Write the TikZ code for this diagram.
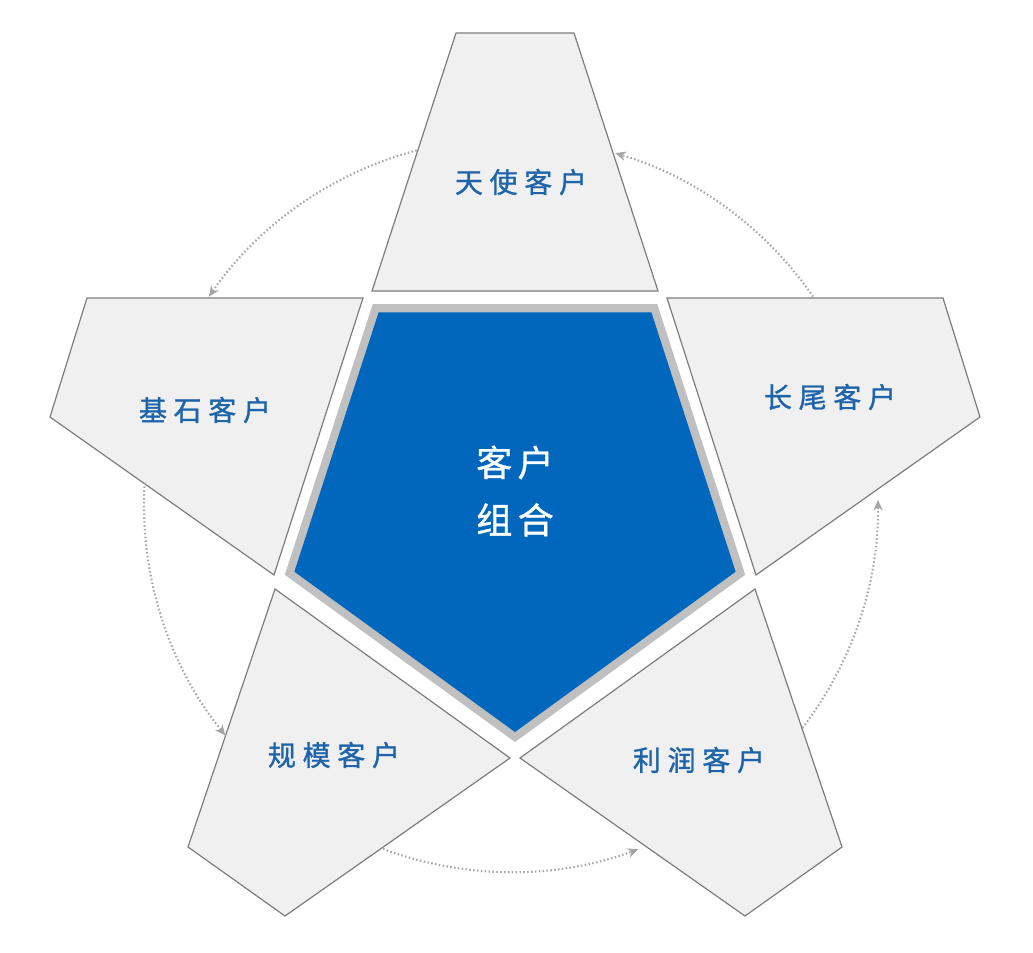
\documentclass[tikz,border=0pt]{standalone}
\usepackage{fontspec}
\newfontfamily\cjk[LetterSpace=24,FakeBold=1.2]{Noto Sans CJK SC}
\newfontfamily\cjkc[LetterSpace=15,FakeBold=1.0]{Noto Sans CJK SC}
\usetikzlibrary{arrows.meta}
\definecolor{piecefill}{RGB}{240,240,240}
\definecolor{piecedraw}{RGB}{125,125,125}
\definecolor{coreblue}{RGB}{0,103,189}
\definecolor{coregray}{RGB}{192,192,192}
\definecolor{labelblue}{RGB}{30,100,170}
\definecolor{arrowgray}{RGB}{165,165,165}
\begin{document}
\begin{tikzpicture}[x=0.75pt,y=-0.75pt,
  piece/.style={fill=piecefill,draw=piecedraw,line width=0.9pt,line join=miter},
  lbl/.style={text=labelblue,font=\cjk\fontsize{21}{25}\selectfont,inner sep=0pt},
  corelbl/.style={text=white,align=center,font=\cjkc\fontsize{27}{43}\selectfont,inner sep=0pt},
  flow/.style={draw=arrowgray,line width=1.6pt,dash pattern=on 1.1pt off 1.8pt,
    -{Stealth[length=8pt,width=7pt]}}]
\useasboundingbox (0,0) rectangle (1033,953);
\fill[white] (0,0) rectangle (1033,953);

% star pieces
\draw[piece] (456,33) -- (574,33) -- (658,291) -- (372,291) -- cycle;
\draw[piece] (87,298) -- (363,298) -- (274,575) -- (50,417) -- cycle;
\draw[piece] (943,298) -- (667,298) -- (756,575) -- (980,417) -- cycle;
\draw[piece] (275,589) -- (510,758) -- (285,916) -- (188,847) -- cycle;
\draw[piece] (755,589) -- (520,758) -- (745,916) -- (842,847) -- cycle;

% central pentagon
\begin{scope}[shift={(515,500)}]
  \fill[coregray] (90:242) -- (162:242) -- (234:242) -- (306:242) -- (18:242) -- cycle;
  \fill[coreblue] (90:232) -- (162:232) -- (234:232) -- (306:232) -- (18:232) -- cycle;
\end{scope}

% labels
\node[lbl] (angel) at (521,182) {天使客户};
\node[lbl] (base) at (205,410) {基石客户};
\node[lbl] (tail) at (830,397) {长尾客户};
\node[lbl] (scale) at (334,755) {规模客户};
\node[lbl] (profit) at (699,760) {利润客户};
\node[corelbl] (core) at (515,491) {客户\\组合};

% cycle arrows
\begin{scope}[shift={(511,505)}]
  \coordinate (s1) at (255.1:367);
  \coordinate (s2) at (183.5:367);
  \coordinate (s3) at (110.4:367);
  \coordinate (s4) at (37.4:367);
  \coordinate (s5) at (-34.6:367);
  \draw[flow] (s1) arc[start angle=255.1,end angle=214.6,radius=367];
  \draw[flow] (s2) arc[start angle=183.5,end angle=141.1,radius=367];
  \draw[flow] (s3) arc[start angle=110.4,end angle=69.7,radius=367];
  \draw[flow] (s4) arc[start angle=37.4,end angle=-0.8,radius=367];
  \draw[flow] (s5) arc[start angle=-34.6,end angle=-73.5,radius=367];
\end{scope}
\end{tikzpicture}
\end{document}
